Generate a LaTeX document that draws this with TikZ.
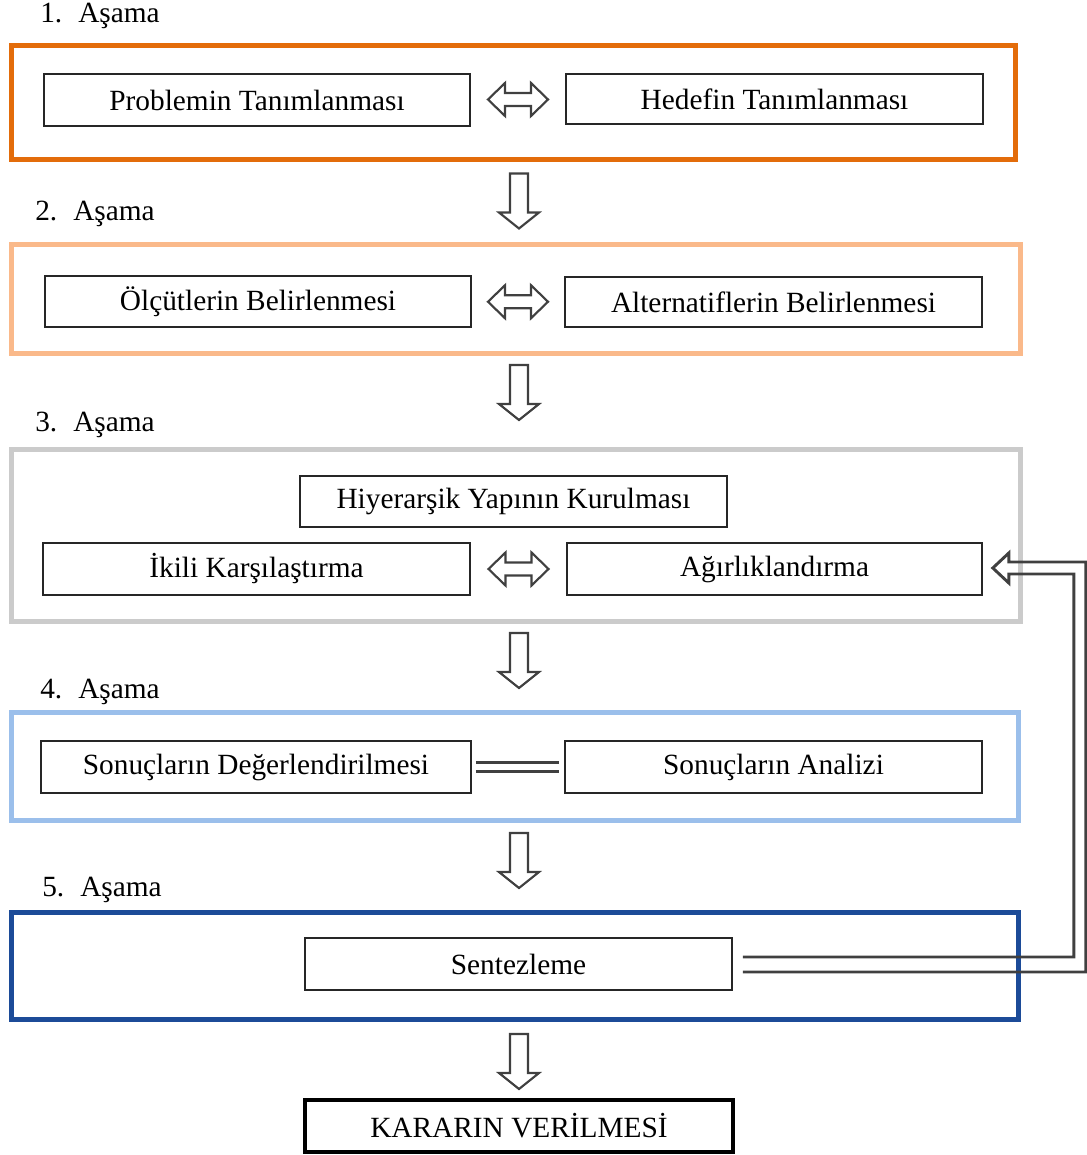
\documentclass[tikz,border=0pt]{standalone}
\usepackage{fontspec}
\setmainfont{Liberation Serif}
\usetikzlibrary{calc}

\definecolor{stageA}{HTML}{E36C0A}
\definecolor{stageB}{HTML}{FAB98A}
\definecolor{stageC}{HTML}{CBCBCB}
\definecolor{stageD}{HTML}{9BBFEB}
\definecolor{stageE}{HTML}{1C4B98}
\definecolor{ink}{HTML}{404040}

\def\pxu{0.75pt}

\tikzset{
  frame/.style={draw, rectangle, line width=3.75pt, inner sep=0pt},
  box/.style={draw=black!85, rectangle, line width=1.2pt, inner sep=0pt,
              font=\fontsize{22}{26}\selectfont},
  stagelabel/.style={anchor=base west, inner sep=0pt,
              font=\fontsize{22}{26}\selectfont},
  blockarrow/.style={draw=ink, fill=white, line width=1.6pt, line join=miter},
  feedback/.style={draw=ink, line width=2.2pt, line join=miter},
  pairline/.style={draw=ink, line width=2pt},
  downarr/.pic={\path[blockarrow] (-9,-27.5) -- (-9,11.5) -- (-20,11.5) -- (0,27.5)
                 -- (20,11.5) -- (9,11.5) -- (9,-27.5) -- cycle;},
  lrarr/.pic={\path[blockarrow] (-30,0) -- (-13,-16.5) -- (-13,-6.5) -- (13,-6.5)
                 -- (13,-16.5) -- (30,0) -- (13,16.5) -- (13,6.5) -- (-13,6.5)
                 -- (-13,16.5) -- cycle;}
}

\begin{document}
\begin{tikzpicture}[x=0.75pt, y=-0.75pt]
\useasboundingbox (0,0) rectangle (1087,1155);

% stage frames
\node[frame, draw=stageA, minimum width=1004*\pxu, minimum height=114.5*\pxu] (s1) at (513,102.75) {};
\node[frame, draw=stageB, minimum width=1009*\pxu, minimum height=108.5*\pxu] (s2) at (515.5,299.25) {};
\node[frame, draw=stageC, minimum width=1009*\pxu, minimum height=171.5*\pxu] (s3) at (515.5,535.25) {};
\node[frame, draw=stageD, minimum width=1007*\pxu, minimum height=108*\pxu] (s4) at (514.5,766.5) {};
\node[frame, draw=stageE, minimum width=1007*\pxu, minimum height=106.5*\pxu] (s5) at (514.5,965.75) {};

% stage titles
\node[stagelabel] (t1) at (40,23) {1.\hspace{12pt}Aşama};
\node[stagelabel] (t2) at (35,221) {2.\hspace{12pt}Aşama};
\node[stagelabel] (t3) at (35,431) {3.\hspace{12pt}Aşama};
\node[stagelabel] (t4) at (40,698) {4.\hspace{12pt}Aşama};
\node[stagelabel] (t5) at (42,896) {5.\hspace{12pt}Aşama};

% stage 1
\node[box, minimum width=426*\pxu, minimum height=52*\pxu] (prob) at (257,100) {Problemin Tanımlanması};
\node[box, minimum width=417*\pxu, minimum height=50*\pxu] (hedef) at (774.5,99) {Hedefin Tanımlanması};
% stage 2
\node[box, minimum width=426*\pxu, minimum height=51*\pxu] (olcut) at (258,301.5) {Ölçütlerin Belirlenmesi};
\node[box, minimum width=417*\pxu, minimum height=50*\pxu] (alt) at (773.5,302) {Alternatiflerin Belirlenmesi};
% stage 3
\node[box, minimum width=427*\pxu, minimum height=51*\pxu] (hiy) at (513.5,501.5) {Hiyerarşik Yapının Kurulması};
\node[box, minimum width=427*\pxu, minimum height=52*\pxu] (ikili) at (256.5,569) {İkili Karşılaştırma};
\node[box, minimum width=415*\pxu, minimum height=52*\pxu] (agir) at (774.5,569) {Ağırlıklandırma};
% stage 4
\node[box, minimum width=430*\pxu, minimum height=52*\pxu] (deg) at (256,767) {Sonuçların Değerlendirilmesi};
\node[box, minimum width=417*\pxu, minimum height=52*\pxu] (anal) at (773.5,767) {Sonuçların Analizi};
% stage 5
\node[box, minimum width=427*\pxu, minimum height=52*\pxu] (sent) at (518.5,964) {Sentezleme};
% decision
\node[box, draw=black, line width=3pt, minimum width=428*\pxu, minimum height=52*\pxu] (karar) at (519,1126) {KARARIN VERİLMESİ};

% two-way arrows inside the stages
\pic at ($(prob.east)!0.5!(hedef.west)$) {lrarr};
\pic at ($(olcut.east)!0.5!(alt.west)$) {lrarr};
\pic at ($(ikili.east)!0.5!(agir.west)$) {lrarr};

% link between the two result boxes
\draw[pairline] ($(deg.east)+(4,-4.5)$) -- ($(anal.west)+(-5,-4.5)$);
\draw[pairline] ($(deg.east)+(4,4.5)$) -- ($(anal.west)+(-5,4.5)$);

% arrows from stage to stage
\pic at (519,201) {downarr};
\pic at (519,392.5) {downarr};
\pic at (519,660.5) {downarr};
\pic at (519,860.5) {downarr};
\pic at (519,1061.5) {downarr};

% feedback from synthesis back to weighting
\draw[feedback] ($(sent.east)+(10,-7)$) -- ++(331,0) |- ($(agir.east)+(26,5)$)
  -- ++(0,9) -- ($(agir.east)+(10,-1)$) -- ++(16,-15) -- ++(0,9) -- ++(77,0)
  |- ($(sent.east)+(10,8)$);

\end{tikzpicture}
\end{document}
